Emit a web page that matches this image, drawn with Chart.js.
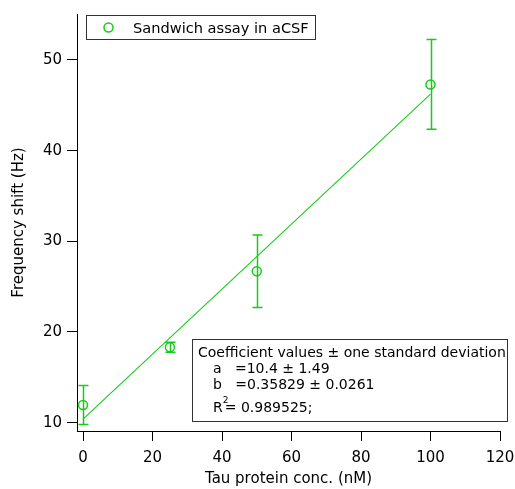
<!DOCTYPE html>
<html>
<head>
<meta charset="utf-8">
<script src="https://cdn.jsdelivr.net/npm/chart.js@4.4.0/dist/chart.umd.min.js"></script>
<style>
html,body{margin:0;padding:0;background:#fff;}
#wrap{position:relative;width:515px;height:489px;}
</style>
</head>
<body>
<div id="wrap"><canvas id="c" width="515" height="489"></canvas></div>
<script>
const concentrations = [0, 25, 50, 100];
const freqShift = [11.95, 18.32, 26.7, 47.3];
const freqError = [2.15, 0.55, 4.0, 4.95];
const fitA = 10.4;
const fitB = 0.35829;
const fitX = [0, 100];
const fitY = [10.4, 46.229];
const xTicks = [0, 20, 40, 60, 80, 100, 120];
const yTicks = [10, 20, 30, 40, 50];
const seriesName = 'Sandwich assay in aCSF';
const coefLines = ['Coefficient values \u00B1 one standard deviation', 'a   =10.4 \u00B1 1.49', 'b   =0.35829 \u00B1 0.0261'];

const GREEN = '#16cc16';
const FONT = '"DejaVu Sans", sans-serif';

const errorBars = {
  id: 'errorBars',
  afterDatasetsDraw(chart) {
    const ctx = chart.ctx, xs = chart.scales.x, ys = chart.scales.y;
    ctx.save();
    ctx.strokeStyle = GREEN;
    ctx.lineWidth = 1.5;
    concentrations.forEach((cx, i) => {
      const px = Math.round(xs.getPixelForValue(cx)) + 0.5;
      const top = ys.getPixelForValue(freqShift[i] + freqError[i]);
      const bot = ys.getPixelForValue(freqShift[i] - freqError[i]);
      ctx.beginPath();
      ctx.moveTo(px, top); ctx.lineTo(px, bot);
      ctx.moveTo(px - 5, top); ctx.lineTo(px + 5, top);
      ctx.moveTo(px - 5, bot); ctx.lineTo(px + 5, bot);
      ctx.stroke();
    });
    ctx.restore();
  }
};

const boxes = {
  id: 'boxes',
  afterDraw(chart) {
    const ctx = chart.ctx;
    ctx.save();
    // legend box
    ctx.fillStyle = '#fff';
    ctx.fillRect(86, 15, 229, 24);
    ctx.strokeStyle = '#333';
    ctx.lineWidth = 1;
    ctx.strokeRect(86.5, 15.5, 229, 24);
    ctx.beginPath();
    ctx.strokeStyle = GREEN;
    ctx.lineWidth = 1.5;
    ctx.arc(108.5, 27.5, 4.5, 0, Math.PI * 2);
    ctx.stroke();
    ctx.fillStyle = '#000';
    ctx.font = '14.6px ' + FONT;
    ctx.textBaseline = 'alphabetic';
    ctx.textAlign = 'left';
    ctx.fillText(seriesName, 133, 33);
    // coefficient box
    ctx.fillStyle = '#fff';
    ctx.fillRect(192, 339, 315, 82);
    ctx.strokeStyle = '#333';
    ctx.lineWidth = 1;
    ctx.strokeRect(192.5, 339.5, 315, 82);
    ctx.fillStyle = '#000';
    ctx.font = '14px ' + FONT;
    ctx.fillText(coefLines[0], 198, 357);
    ctx.fillText(coefLines[1], 213, 373);
    ctx.fillText(coefLines[2], 213, 389);
    ctx.fillText('R', 213, 412);
    const rw = ctx.measureText('R').width;
    ctx.font = '9px ' + FONT;
    ctx.fillText('2', 213 + rw, 403);
    ctx.font = '14px ' + FONT;
    ctx.fillText('= 0.989525;', 213 + rw + 2, 412);
    ctx.restore();
  }
};

new Chart(document.getElementById('c'), {
  type: 'scatter',
  data: {
    datasets: [
      {
        label: 'fit',
        type: 'line',
        data: fitX.map((x, i) => ({x, y: fitY[i]})),
        borderColor: GREEN,
        borderWidth: 1.1,
        pointRadius: 0,
        fill: false,
        order: 2
      },
      {
        label: seriesName,
        data: concentrations.map((x, i) => ({x, y: freqShift[i]})),
        pointStyle: 'circle',
        pointRadius: 4.5,
        pointBorderWidth: 1.5,
        borderColor: GREEN,
        backgroundColor: 'rgba(0,0,0,0)',
        order: 1
      }
    ]
  },
  options: {
    responsive: false,
    animation: false,
    events: [],
    layout: { padding: { top: 14, right: 15, left: 0, bottom: 0 } },
    plugins: { legend: { display: false }, tooltip: { enabled: false } },
    scales: {
      x: {
        type: 'linear',
        min: -1.73,
        max: 120,
        afterFit(s) { s.height = 58; s.paddingLeft = 0; s.paddingRight = 0; },
        afterBuildTicks(s) { s.ticks = xTicks.map(v => ({value: v})); },
        border: { display: true, color: '#000', width: 1 },
        grid: { drawOnChartArea: false, tickLength: 10, color: '#000', tickColor: '#000' },
        ticks: { color: '#000', font: { family: FONT, size: 15 }, padding: 8, maxRotation: 0 },
        title: { display: true, text: 'Tau protein conc. (nM)', color: '#000', font: { family: FONT, size: 15 }, padding: { top: 0, bottom: 1 } }
      },
      y: {
        type: 'linear',
        min: 9.08,
        max: 55.07,
        afterFit(s) { s.width = 77; s.paddingTop = 0; s.paddingBottom = 0; },
        afterBuildTicks(s) { s.ticks = yTicks.map(v => ({value: v})); },
        border: { display: true, color: '#000', width: 1 },
        grid: { drawOnChartArea: false, tickLength: 10, color: '#000', tickColor: '#000' },
        ticks: { color: '#000', font: { family: FONT, size: 15 }, padding: 5 },
        title: { display: true, text: 'Frequency shift (Hz)', color: '#000', font: { family: FONT, size: 15 }, padding: { top: 10, bottom: 0 } }
      }
    }
  },
  plugins: [errorBars, boxes]
});
</script>
</body>
</html>
